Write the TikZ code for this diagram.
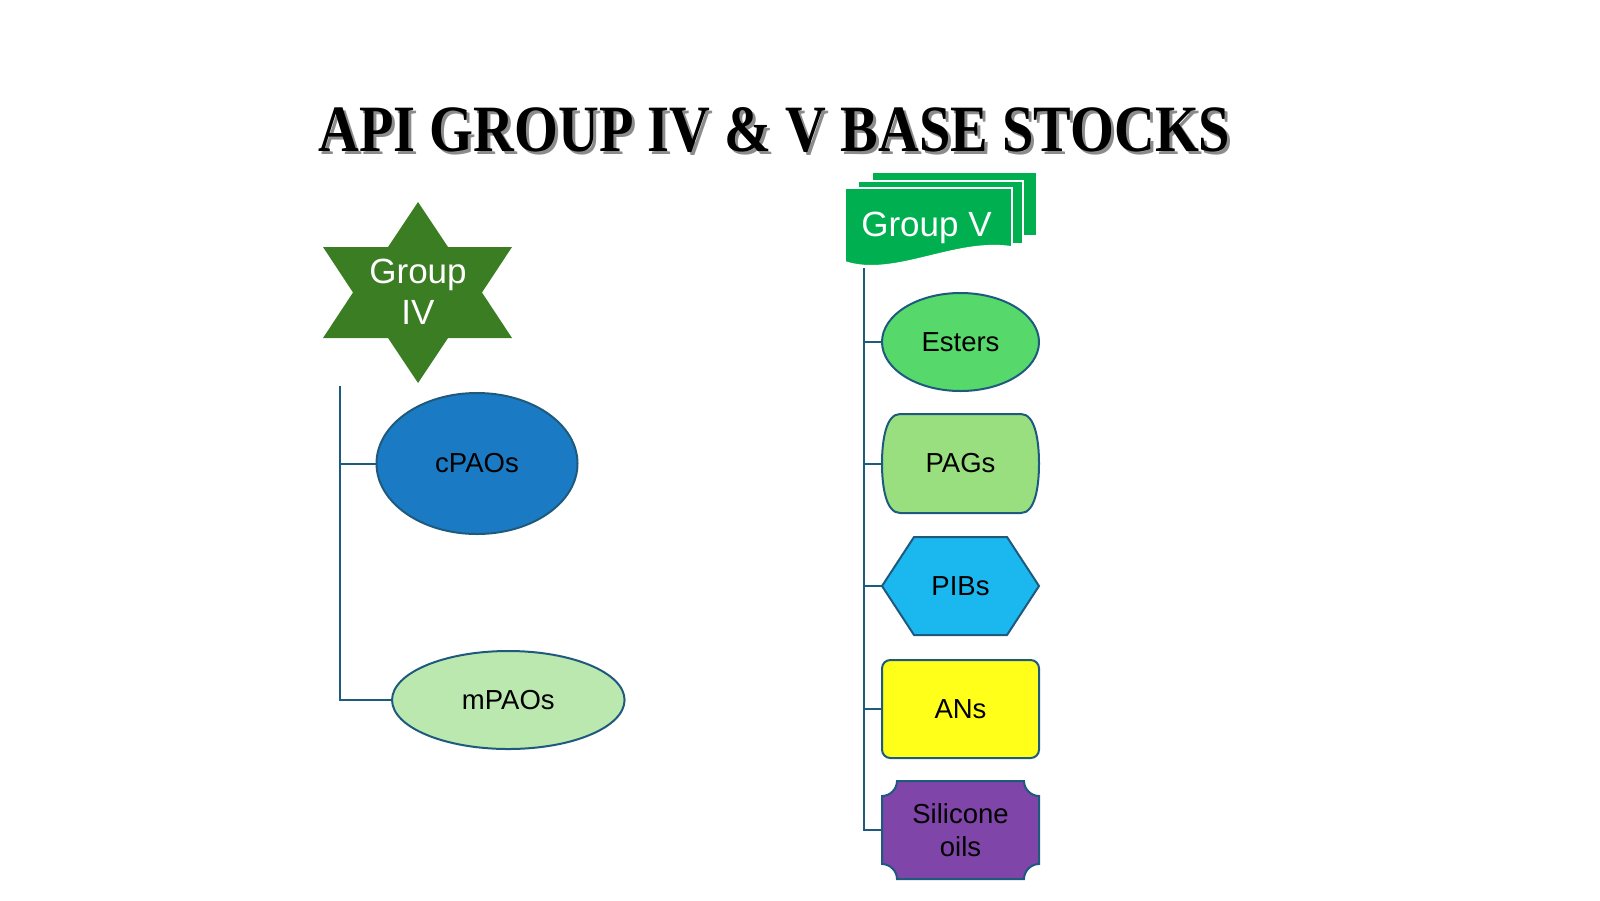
\documentclass[tikz,border=0pt]{standalone}
\usepackage{fontspec}
\setmainfont{Liberation Sans}
\newfontfamily\titlefont{Liberation Serif}
\usetikzlibrary{shapes.geometric}
\definecolor{edgeblue}{HTML}{1E5A7E}
\definecolor{stargreen}{HTML}{3B7D23}
\definecolor{gvgreen}{HTML}{00B050}
\definecolor{cpaoblue}{HTML}{1A7BC4}
\definecolor{mpaogreen}{HTML}{BBE8AF}
\definecolor{estgreen}{HTML}{56D86A}
\definecolor{paggreen}{HTML}{99DF80}
\definecolor{pibblue}{HTML}{1AB8EE}
\definecolor{anyellow}{HTML}{FFFF1A}
\definecolor{silpurple}{HTML}{7F45A8}
\newcommand{\titletext}{\resizebox{547pt}{26.4pt}{\titlefont\bfseries API GROUP IV \& V BASE STOCKS}}
\begin{document}
\begin{tikzpicture}[x=0.6pt,y=-0.6pt,
  lbl/.style={font=\fontsize{16.5}{20}\selectfont, text=black, align=center, inner sep=0pt},
  head/.style={font=\fontsize{21}{24.6}\selectfont, text=white, align=center, inner sep=0pt},
  shp/.style={draw=edgeblue, line width=1.2pt},
  conn/.style={draw=edgeblue, line width=1.2pt},
  box/.style={minimum width=94.2pt, minimum height=58.8pt}]
\useasboundingbox (0,0) rectangle (1600,900);

% title
\node[text=black!45, inner sep=0pt] at (777.5,132.5) {\titletext};
\node[text=black, inner sep=0pt] (title) at (774.5,130) {\titletext};

% Group IV star
\path[fill=stargreen] (418,202) -- (448,247) -- (512,247) -- (482,292.5) -- (512,338) -- (448,338) -- (418,383) -- (388,338) -- (323,338) -- (353,292.5) -- (323,247) -- (388,247) -- cycle;
\node[head] (g4) at (418,292) {Group\\IV};
\coordinate (g4top) at (340,386);

% Group IV children
\node[ellipse, shp, fill=cpaoblue, minimum width=120.6pt, minimum height=84.6pt, lbl] (cpaos) at (477,463.5) {cPAOs};
\node[ellipse, shp, fill=mpaogreen, minimum width=139.5pt, minimum height=58.8pt, lbl] (mpaos) at (508.3,700) {mPAOs};
\draw[conn] (g4top) |- (cpaos.west);
\draw[conn] (g4top) |- (mpaos.west);

% Group V multi-document
\path[fill=gvgreen, draw=white, line width=1pt] (872,172) rectangle (1037,236);
\path[fill=gvgreen, draw=white, line width=1pt] (858,181) rectangle (1023,244);
\path[fill=gvgreen, draw=white, line width=1pt] (845,188) -- (1012,188) -- (1012,247) .. controls (955,238) and (895,278) .. (845,262) -- cycle;
\node[head] (g5) at (926.5,228) {Group V};
\coordinate (g5top) at (864,268);

% Group V children shapes
\path[shp, fill=paggreen] (900,414) -- (1021,414) .. controls (1035,414) and (1039,440) .. (1039,463.5) .. controls (1039,487) and (1035,513) .. (1021,513) -- (900,513) .. controls (886,513) and (882,487) .. (882,463.5) .. controls (882,440) and (886,414) .. (900,414) -- cycle;
\path[shp, fill=pibblue] (882,586) -- (914,537) -- (1007,537) -- (1039,586) -- (1007,635) -- (914,635) -- cycle;
\path[shp, fill=silpurple] (897,781) -- (1024,781) .. controls (1024,789) and (1031,796) .. (1039,796) -- (1039,864) .. controls (1031,864) and (1024,871) .. (1024,879) -- (897,879) .. controls (897,871) and (890,864) .. (882,864) -- (882,796) .. controls (890,796) and (897,789) .. (897,781) -- cycle;

\node[ellipse, shp, fill=estgreen, box, lbl] (esters) at (960.5,342) {Esters};
\node[box, lbl] (pags) at (960.5,463.5) {PAGs};
\node[box, lbl] (pibs) at (960.5,586) {PIBs};
\node[shp, fill=anyellow, rounded corners=5pt, box, lbl] (ans) at (960.5,709) {ANs};
\node[box, lbl] (sil) at (960.5,830) {Silicone\\oils};

\draw[conn] (g5top) |- (esters.west);
\draw[conn] (g5top) |- (pags.west);
\draw[conn] (g5top) |- (pibs.west);
\draw[conn] (g5top) |- (ans.west);
\draw[conn] (g5top) |- (sil.west);
\end{tikzpicture}
\end{document}
